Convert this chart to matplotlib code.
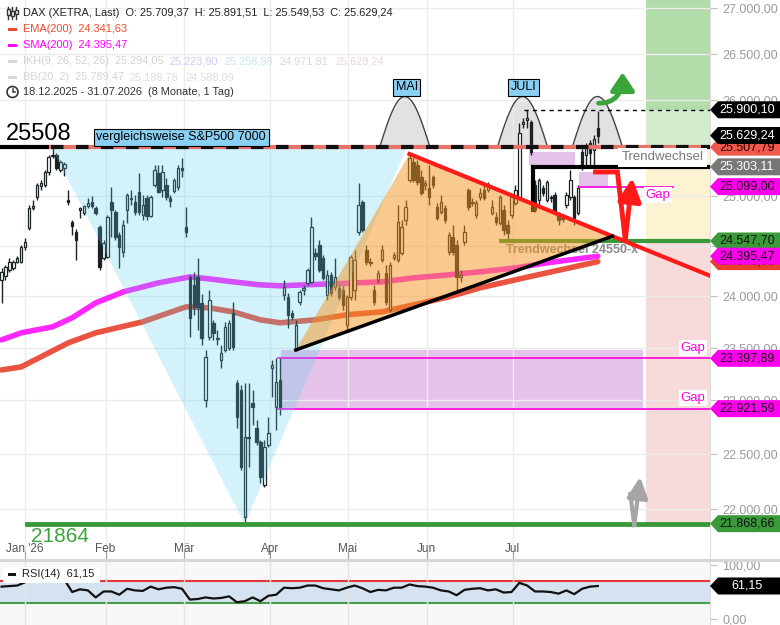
import numpy as np
import matplotlib.pyplot as plt
from matplotlib.patches import Polygon, Rectangle, Circle, FancyArrowPatch
from matplotlib.lines import Line2D
from matplotlib.ticker import FixedLocator, NullLocator, FuncFormatter
from matplotlib.transforms import IdentityTransform, blended_transform_factory

plt.rcParams['font.family'] = ['Liberation Sans', 'DejaVu Sans']

W, H = 780, 625

# ---------------- Kursdaten (Tageskerzen, 18.12.2025 - Ende Juli 2026) ----------------
opens = [24161, 24200, 24259, 24279, 24338, 24338, 24487, 24679, 24881, 24993,
         25106, 25116, 25250, 25415, 25426, 25271, 25292, 24962, 24740, 24639,
         24861, 24831, 24901, 24942, 24881, 24689, 24378, 24388, 24942, 24841,
         24608, 24437, 24861, 24983, 24942, 25044, 24811, 24983, 24800, 25116,
         25240, 25065, 25116, 24983, 25055, 25096, 25292, 24689, 24190, 24111,
         24190, 23934, 23003, 23604, 23740, 23595, 23383, 23478, 23497, 23837,
         23165, 23098, 21929, 22659, 22975, 22743, 22612, 22220, 22584, 23307,
         22938, 23193, 24013, 23993, 23837, 23478, 23944, 24062, 24131, 24141,
         24427, 24507, 24378, 24013, 24210, 24092, 24082, 24062, 23721, 23993,
         24062, 24639, 24942, 24457, 24338, 24062, 24161, 24358, 24230, 23866,
         24378, 24358, 24427, 24760, 25168, 25353, 25322, 25199, 25116, 25085,
         25199, 24891, 24841, 24881, 24437, 24588, 24507, 24190, 24538, 25065,
         24932, 24811, 24993, 25065, 25065, 24831, 24790, 24730, 24861, 24710,
         24811, 24932, 24993, 25750, 25792, 25771, 25116, 24962, 25085, 24962,
         24993, 25013, 24811, 24780, 24912, 24993, 24993, 24831, 25456, 25426,
         25550, 25477, 25709]
highs = [24279, 24309, 24378, 24358, 24398, 24507, 24578, 24912, 24962, 25137,
         25168, 25271, 25426, 25508, 25446, 25374, 25353, 25065, 24760, 24669,
         24891, 24912, 24983, 25003, 24901, 24710, 24558, 24811, 25096, 24861,
         24639, 24760, 25034, 25065, 25013, 25240, 25013, 25013, 25013, 25322,
         25322, 25322, 25189, 25013, 25189, 25322, 25395, 24891, 24210, 24240,
         24378, 24023, 23478, 24062, 23769, 23672, 23527, 23750, 23769, 23944,
         23193, 23146, 23165, 23165, 23098, 22817, 22631, 22631, 22845, 23383,
         23402, 23402, 24161, 24032, 23866, 23769, 24062, 24111, 24279, 24790,
         24477, 24558, 24408, 24259, 24240, 24378, 24111, 24102, 24013, 24408,
         24457, 25137, 24962, 24507, 24378, 24111, 24259, 24507, 24309, 24338,
         24437, 24912, 24760, 24962, 25436, 25395, 25374, 25271, 25168, 25322,
         25220, 24932, 25013, 24912, 24639, 24710, 24558, 24259, 24710, 25085,
         24983, 24962, 25085, 25116, 25147, 24962, 24841, 25013, 24912, 24760,
         25013, 25116, 25760, 25813, 25897, 25792, 25168, 25189, 25116, 25168,
         25013, 25044, 24841, 24821, 25044, 25271, 25013, 25116, 25529, 25550,
         25582, 25635, 25891]
lows = [23934, 24161, 24240, 24259, 24329, 24329, 24457, 24659, 24861, 24962,
        25065, 25096, 25220, 25395, 25271, 25250, 25209, 24912, 24608, 24358,
        24780, 24811, 24881, 24881, 24811, 24259, 24358, 24378, 24588, 24558,
        24279, 24388, 24730, 24912, 24811, 24811, 24760, 24760, 24790, 25096,
        25034, 24993, 24962, 24891, 25034, 25065, 25199, 24588, 23604, 23818,
        23672, 23527, 22938, 23575, 23575, 23527, 23307, 23459, 23478, 23478,
        22743, 22356, 21864, 22383, 22771, 22584, 22238, 22200, 22566, 23032,
        22724, 22864, 23963, 23692, 23769, 23470, 23915, 24013, 24111, 24131,
        24358, 24240, 24161, 23963, 24003, 24062, 23963, 23866, 23672, 23963,
        23963, 24608, 24639, 24309, 24299, 23915, 24131, 24338, 23915, 23847,
        24358, 24338, 24408, 24710, 25147, 25147, 25116, 25013, 25065, 24912,
        25085, 24760, 24821, 24730, 24408, 24408, 24062, 24141, 24507, 24861,
        24901, 24780, 24962, 24962, 25044, 24811, 24710, 24710, 24608, 24558,
        24780, 24912, 24983, 25708, 25708, 25426, 24841, 24912, 25003, 24942,
        24942, 24811, 24710, 24740, 24881, 24962, 24710, 24811, 25271, 25322,
        25322, 25302, 25549]
closes = [24240, 24289, 24338, 24338, 24378, 24487, 24538, 24881, 24901, 25116,
          25137, 25250, 25405, 25426, 25292, 25353, 25333, 24942, 24699, 24558,
          24881, 24901, 24932, 24901, 24831, 24289, 24528, 24790, 24861, 24588,
          24487, 24710, 25013, 24972, 24841, 24841, 24912, 24800, 24993, 25271,
          25044, 25250, 24993, 24952, 25168, 25292, 25271, 24639, 23789, 23895,
          23895, 23595, 23412, 23963, 23643, 23585, 23450, 23701, 23740, 23507,
          22845, 22383, 22659, 22650, 22938, 22612, 22292, 22566, 22696, 23336,
          23174, 22938, 24092, 23818, 23798, 23721, 24042, 24082, 24259, 24689,
          24398, 24259, 24180, 24210, 24032, 24190, 23993, 23915, 23993, 24388,
          24358, 24912, 24659, 24338, 24329, 23944, 24230, 24457, 23944, 24309,
          24408, 24740, 24689, 24891, 25395, 25168, 25147, 25034, 25137, 24993,
          25116, 24780, 24942, 24760, 24608, 24437, 24190, 24210, 24639, 24891,
          24942, 24932, 25034, 24983, 25116, 24891, 24740, 24993, 24659, 24629,
          24993, 25065, 25656, 25771, 25813, 25456, 24861, 25168, 25034, 25147,
          24983, 24831, 24760, 24770, 25013, 25168, 24780, 25085, 25302, 25498,
          25446, 25592, 25629]

# gleitende Durchschnitte (Stützpunkte: Kerzenindex, Wert)
sma_idx = [0, 5, 13, 18, 24, 31, 40, 48, 53, 59, 66, 71, 84, 97, 105, 114, 122, 131, 139, 152]
sma_val = [23575, 23643, 23701, 23789, 23934, 24042, 24131, 24190, 24170, 24141,
           24111, 24102, 24121, 24141, 24180, 24210, 24240, 24279, 24329, 24395]
ema_idx = [0, 5, 17, 24, 36, 47, 53, 59, 66, 71, 80, 88, 97, 105, 114, 122, 131, 139, 152]
ema_val = [23287, 23316, 23546, 23643, 23750, 23895, 23885, 23847, 23769, 23740,
           23769, 23818, 23847, 23915, 23993, 24082, 24161, 24230, 24341]

# RSI(14), jede zweite Kerze
rsi_val = [60, 61, 62, 68, 76, 79, 79, 77, 73, 50, 55, 53, 40, 51, 51, 45, 56, 53, 52, 60,
           55, 58, 59, 56, 36, 37, 40, 38, 39, 42, 31, 33, 40, 33, 43, 45, 58, 57, 58, 62,
           62, 57, 55, 53, 58, 62, 57, 50, 54, 53, 58, 58, 64, 61, 60, 58, 53, 51, 44, 54,
           56, 57, 53, 55, 49, 50, 67, 62, 51, 51, 50, 47, 53, 46, 56, 60, 61.15]

month_names = ["Jan '26", 'Feb', 'Mär', 'Apr', 'Mai', 'Jun', 'Jul']
month_idx = [5.9, 26.5, 46.6, 68.4, 88.3, 108.4, 130.3]
price_ticks = [22000, 22500, 23000, 23500, 24000, 24500, 25000, 25500, 26000, 26500, 27000]

# Marken
lvl_top = 25507.79
lvl_res = 25900.10
lvl_trend = 25303.11
lvl_gap = 25099.00
lvl_support = 24547.70
gap_hi = 23397.89
gap_lo = 22921.59
lvl_low = 21868.66
last_close = 25629.24
sma_last = 24395.47
ema_last = 24341.63

# Zeichnungen (Kerzenindex, Kurs)
cup_pts = [(12.7, 25508), (62, 21864), (103.3, 25508)]
tri_pts = [(75, 23478), (104, 25436), (155.7, 24595)]
red_line = [(104, 25436), (180.7, 24200)]
black_line = [(75, 23478), (155.7, 24595)]
hump_centers = [102.8, 132.8, 151.9]
hump_peak = 26041
xmax = 180.6


def de(v, nd=2):
    s = f"{v:,.{nd}f}"
    return s.replace(',', 'X').replace('.', ',').replace('X', '.')


fig = plt.figure(figsize=(W / 100, H / 100), dpi=100)
ax = fig.add_axes([0, 66 / H, 710 / W, 559 / H])
rx = fig.add_axes([0, 0, 710 / W, 63 / H])

ax.set_yscale('log')
ax.set_xlim(-0.4, xmax)
ax.set_ylim(21555, 27089)
ax.yaxis.set_major_locator(FixedLocator(price_ticks))
ax.yaxis.set_minor_locator(NullLocator())
ax.yaxis.set_major_formatter(FuncFormatter(lambda v, p: de(v)))
ax.yaxis.tick_right()
ax.tick_params(axis='y', labelcolor='#9a9a9a', color='#c0c0c0', length=5, labelsize=9, pad=4)
ax.set_xticks(month_idx)
ax.tick_params(axis='x', direction='in', length=6, color='#a0a0a0', labelbottom=False)
ax.grid(True, color='#ececec', lw=1, zorder=0)
for s in ['top', 'left', 'bottom']:
    ax.spines[s].set_visible(False)
ax.spines['right'].set_color('#dddddd')

blend = blended_transform_factory(ax.transData, ax.transAxes)
for mi, name in zip(month_idx, month_names):
    ax.text(mi, 0.018, name, transform=blend, ha='center', va='center', fontsize=8.5, color='#555555')

# Zonen rechts
zx0 = 164.4
ax.add_patch(Rectangle((zx0, lvl_res), xmax - zx0, 27100 - lvl_res, color='#b2ddab', lw=0, zorder=0.5))
ax.add_patch(Rectangle((zx0, lvl_top), xmax - zx0, lvl_res - lvl_top, color='#d3ecce', lw=0, zorder=0.5))
ax.add_patch(Rectangle((zx0, lvl_support), xmax - zx0, lvl_top - lvl_support, color='#fdf3d2', lw=0, zorder=0.5))
ax.add_patch(Rectangle((zx0, lvl_low), xmax - zx0, lvl_support - lvl_low, color='#f7dada', lw=0, zorder=0.5))

# Gap-Boxen
ax.add_patch(Rectangle((71.2, gap_lo), 163.4 - 71.2, 23478 - gap_lo, color='#e5c2ea', lw=0, zorder=1))
ax.add_patch(Rectangle((134.4, 25322), 11.9, 25456 - 25322, color='#e5c2ea', lw=0, zorder=1))
ax.add_patch(Rectangle((147.3, lvl_gap), 7.2, 25250 - lvl_gap, color='#e5c2ea', lw=0, zorder=1))

# Höcker
for hc in hump_centers:
    u = np.linspace(0, 1, 80)
    hx = hc - 6.4 + 12.8 * u
    hy = lvl_top * (hump_peak / lvl_top) ** np.sin(np.pi * u)
    ax.fill_between(hx, lvl_top, hy, color='#e2e2e2', lw=0, zorder=1.5)
    ax.plot(hx, hy, color='#444444', lw=1, zorder=1.6)

# gleitende Durchschnitte
ax.plot(sma_idx, sma_val, color='#ff10ff', lw=4, alpha=0.9, solid_capstyle='round', zorder=2)
ax.plot(ema_idx, ema_val, color='#e8402a', lw=4, alpha=0.9, solid_capstyle='round', zorder=2)

# Kerzen
o = np.array(opens, float)
h = np.array(highs, float)
l = np.array(lows, float)
c = np.array(closes, float)
idx = np.arange(len(o))
up = c >= o
kc = '#1b2226'
ax.vlines(idx, l, h, color=kc, lw=1, zorder=3)
ax.bar(idx[up], np.maximum(c[up] - o[up], 3), bottom=o[up], width=0.62,
       color='white', edgecolor=kc, lw=0.9, zorder=3.2)
ax.bar(idx[~up], np.maximum(o[~up] - c[~up], 3), bottom=c[~up], width=0.62,
       color=kc, edgecolor=kc, lw=0.9, zorder=3.2)

# horizontale Linien
ax.plot([133.3, 180.7], [lvl_res, lvl_res], color='black', lw=1, ls=(0, (3, 3)), zorder=4)
ax.plot([147.3, 171.2], [lvl_gap, lvl_gap], color='#ff00dd', lw=1.2, zorder=4)
ax.plot([127.2, xmax], [lvl_support, lvl_support], color='#3a9a3a', lw=3, zorder=4)
ax.plot([70.5, xmax], [gap_hi, gap_hi], color='#ff00dd', lw=1.2, zorder=4)
ax.plot([70.5, xmax], [gap_lo, gap_lo], color='#ff00dd', lw=1.2, zorder=4)
ax.plot([6.4, xmax], [lvl_low, lvl_low], color='#3a9a3a', lw=3.5, zorder=4)
ax.plot([135.4, xmax], [lvl_trend, lvl_trend], color='black', lw=3, zorder=4)
ax.plot([135.4, 135.4], [lvl_trend, 24861], color='black', lw=3, zorder=4)
ax.text(128.5, 24460, 'Trendwechsel 24550-x', fontsize=9, fontweight='bold',
        color='#8a8a8a', va='center', zorder=4)

# Dreiecke
ax.add_patch(Polygon(cup_pts, closed=True, facecolor='#57ceeb', alpha=0.25, lw=0, zorder=5))
ax.add_patch(Polygon(tri_pts, closed=True, facecolor='#f49420', alpha=0.5, lw=0, zorder=5))
ax.plot(*zip(*red_line), color='#ff1a1a', lw=3, zorder=6)
ax.plot(*zip(*black_line), color='black', lw=2.5, zorder=6)

# 25508 Linie
ax.plot([-0.4, 12.7], [lvl_top, lvl_top], color='black', lw=3, zorder=6)
ax.plot([12.7, xmax], [lvl_top, lvl_top], color='#e8736a', lw=3, zorder=6)
ax.plot([12.7, xmax], [lvl_top, lvl_top], color='#111111', lw=3, ls=(0, (3, 3)), zorder=6.1)

# Texte im Chart
ax.text(1.2, 25640, '25508', fontsize=17, color='black', va='center', zorder=8)
ax.text(7.6, 21758, '21864', fontsize=15, color='#3aa53a', va='center', zorder=8)
ax.text(24.2, 25612, 'vergleichsweise S&P500 7000', fontsize=9, va='center', zorder=8,
        bbox=dict(boxstyle='square,pad=0.2', fc='#8ad0f2', ec='black', lw=0.8))
ax.text(103.3, 26142, 'MAI', fontsize=9, ha='center', va='center', zorder=8,
        bbox=dict(boxstyle='square,pad=0.2', fc='#8ad0f2', ec='black', lw=0.8))
ax.text(133.1, 26142, 'JULI', fontsize=9, ha='center', va='center', zorder=8,
        bbox=dict(boxstyle='square,pad=0.2', fc='#8ad0f2', ec='black', lw=0.8))
ax.text(178.9, 25400, 'Trendwechsel', fontsize=9.5, color='#777777', ha='right', va='center', zorder=8,
        bbox=dict(boxstyle='square,pad=0.25', fc='white', ec='none'))
ax.text(164.2, 25010, 'Gap', fontsize=9.5, color='#ff00dd', va='center', zorder=8,
        bbox=dict(boxstyle='square,pad=0.15', fc='white', ec='none'))
for gp in [23497, 23022]:
    ax.text(179.4, gp, 'Gap', fontsize=9.5, color='#ff00dd', ha='right', va='center', zorder=8,
            bbox=dict(boxstyle='square,pad=0.15', fc='white', ec='none'))

# Pfeile
ax.add_patch(FancyArrowPatch((152.2, 25970), (158.3, 26300), arrowstyle='-|>,head_length=0.6,head_width=0.4',
                             mutation_scale=18, lw=3.5, color='#3aa53a', shrinkA=0, shrinkB=0,
                             connectionstyle='angle3,angleA=0,angleB=90', zorder=7))
ax.plot([151.4, 157, 159], [25250, 25250, 24557], color='#ff1a1a', lw=3.5, zorder=7, solid_joinstyle='miter')
ax.add_patch(FancyArrowPatch((159, 24557), (160.8, 25189), arrowstyle='-|>,head_length=0.7,head_width=0.35',
                             mutation_scale=20, lw=3.5, color='#ff1a1a', shrinkA=0, shrinkB=0, zorder=7))
ax.plot([160.3, 161.3], [22136, 21855], color='#a5a5a5', lw=3, zorder=7)
ax.add_patch(FancyArrowPatch((161.3, 21855), (162.8, 22290), arrowstyle='-|>,head_length=0.7,head_width=0.35',
                             mutation_scale=18, lw=3, color='#a5a5a5', shrinkA=0, shrinkB=0, zorder=7))

# ---------------- RSI ----------------
rsi = np.array(rsi_val, float)
ri = np.arange(0, len(o), 2)
rx.set_xlim(-0.4, xmax)
rx.set_ylim(-11.1, 105.6)
rx.set_facecolor('#f8f8f8')
rx.fill_between([-0.4, xmax], 30, 70, color='#d5e3f1', lw=0, zorder=0.5)
rx.fill_between(ri, rsi, 70, where=rsi > 70, interpolate=True, color='#f4cccc', lw=0, zorder=0.8)
rx.axhline(70, color='#e53935', lw=1.5, zorder=1)
rx.axhline(30, color='#43a047', lw=1.5, zorder=1)
rx.plot(ri, rsi, color='#111111', lw=1.6, zorder=3)
rx.set_xticks(month_idx)
rx.tick_params(axis='x', length=0, labelbottom=False)
rx.yaxis.tick_right()
rx.set_yticks([0, 100])
rx.set_yticklabels(['0,00', '100,00'])
rx.tick_params(axis='y', labelcolor='#9a9a9a', color='#c0c0c0', length=5, labelsize=9, pad=4)
rx.grid(True, axis='x', color='#e4e4e4', lw=1, zorder=0)
for s in ['top', 'left', 'bottom']:
    rx.spines[s].set_visible(False)
rx.spines['right'].set_color('#dddddd')

ident = IdentityTransform()
fig.add_artist(Rectangle((0, H - 562), W, 3, transform=ident, color='#d6d6d6', lw=0))
fig.add_artist(Rectangle((3, H - 583), 97, 16, transform=ident, color='white', lw=0, zorder=5))
fig.add_artist(Rectangle((8, H - 575.5), 8, 3, transform=ident, color='#111111', lw=0, zorder=6))
fig.text(22 / W, 1 - 574 / H, 'RSI(14)  61,15', fontsize=8, color='#222222', va='center', zorder=6)


# ---------------- Preisschilder rechts ----------------
tag_z = [10]


def tag(axis, value, text, bg, fg):
    y = axis.transData.transform((0, value))[1]
    z = tag_z[0]
    tag_z[0] += 2
    verts = [(710, y), (718, y + 8.5), (780, y + 8.5), (780, y - 8.5), (718, y - 8.5)]
    fig.add_artist(Polygon(verts, closed=True, transform=ident, facecolor=bg, edgecolor='none', zorder=z))
    fig.text(747 / W, y / H, text, fontsize=9, color=fg, ha='center', va='center', zorder=z + 1)


tag(ax, lvl_res, de(lvl_res), '#000000', 'white')
tag(ax, lvl_top, de(lvl_top), '#f0584c', '#2a0000')
tag(ax, last_close, de(last_close), '#000000', 'white')
tag(ax, lvl_trend, de(lvl_trend), '#777777', 'white')
tag(ax, lvl_gap, de(lvl_gap), '#ff00ee', '#111111')
tag(ax, lvl_support, de(lvl_support), '#3a9a3a', '#111111')
tag(ax, ema_last, de(ema_last), '#e8402a', '#111111')
tag(ax, sma_last, de(sma_last), '#ff00ee', '#111111')
tag(ax, gap_hi, de(gap_hi), '#ff00ee', '#111111')
tag(ax, gap_lo, de(gap_lo), '#ff00ee', '#111111')
tag(ax, lvl_low, de(lvl_low), '#3a9a3a', '#111111')
tag(rx, 61.15, '61,15', '#000000', 'white')


# ---------------- Legende oben links ----------------
def T(x, y, s, color, **kw):
    fig.text(x / W, 1 - y / H, s, fontsize=7.9, color=color, va='center', zorder=9, **kw)


T(23, 13, 'DAX (XETRA, Last)  O: 25.709,37  H: 25.891,51  L: 25.549,53  C: 25.629,24', '#222222')
T(23, 29, 'EMA(200)  24.341,63', '#f04a2c')
T(23, 45, 'SMA(200)  24.395,47', '#ff00ff')
T(23, 61, 'IKH(9, 26, 52, 26)  25.294,05', '#d2d2d2')
T(170, 61, '25.223,90', '#d5c6ef')
T(225, 61, '25.258,98', '#c9e6f3')
T(280, 61, '24.971,81', '#d8d8d8')
T(335, 61, '25.629,24', '#edd2e4')
T(23, 77, 'BB(20, 2)  25.789,47', '#d6d6d6')
T(130, 77, '25.188,78', '#dedede')
T(185, 77, '24.588,09', '#dedede')
T(23, 92, '18.12.2025 - 31.07.2026  (8 Monate, 1 Tag)', '#333333')

for cx, yb in [(8, (9, 15)), (12, (11, 16)), (16, (10, 14))]:
    fig.add_artist(Line2D([cx, cx], [H - 7, H - 19], transform=ident, color='#333333', lw=1, zorder=9))
    fig.add_artist(Rectangle((cx - 1.5, H - yb[1]), 3, yb[1] - yb[0], transform=ident,
                             facecolor='white', edgecolor='#333333', lw=1, zorder=9.5))
for yy, col in [(29, '#f04a2c'), (45, '#ff00ff'), (61, '#d8d8d8'), (77, '#d8d8d8')]:
    fig.add_artist(Rectangle((8, H - yy - 1.5), 9, 3, transform=ident, color=col, lw=0, zorder=9))
fig.add_artist(Circle((12.5, H - 92), 5.5, transform=ident, fill=False, edgecolor='#333333', lw=1.2, zorder=9))
fig.add_artist(Line2D([12.5, 12.5, 15], [H - 88.5, H - 92, H - 92], transform=ident,
                      color='#333333', lw=1.1, zorder=9))

fig.savefig('out.png', dpi=100)
